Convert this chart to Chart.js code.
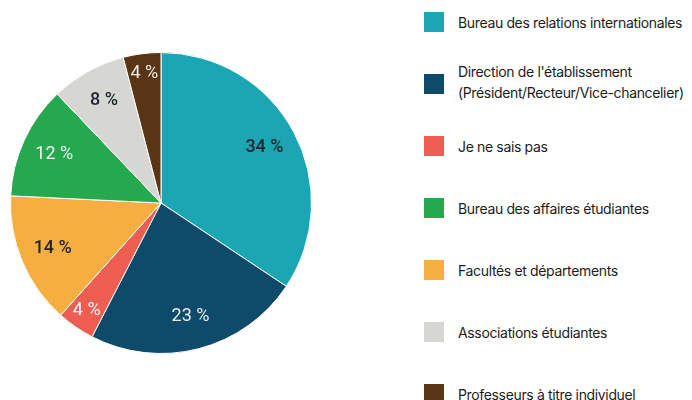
<!DOCTYPE html>
<html>
<head>
<meta charset="utf-8">
<script src="https://cdn.jsdelivr.net/npm/chart.js@4.4.1/dist/chart.umd.min.js"></script>
<style>
    body { margin: 0; background: #fff; width: 692px; height: 400px; overflow: hidden; position: relative; }
    #box { position: absolute; left: 0; top: 0; width: 322px; height: 400px; }
    #legend { position: absolute; left: 424px; top: 0; font-family: Inter, sans-serif; font-size: 14px; color: #1c1c1c; letter-spacing: -0.35px; }
    .item { position: absolute; left: 0; white-space: nowrap; }
    .sq { position: absolute; left: 0; width: 20px; height: 20px; }
    .txt { position: absolute; left: 34px; line-height: 21px; }
</style>
</head>
<body>
<div id="box"><canvas id="chart"></canvas></div>
<div id="legend"></div>
<script>
// categories, in legend order
var labels = [
    "Bureau des relations internationales",
    "Direction de l'établissement\n(Président/Recteur/Vice-chancelier)",
    "Je ne sais pas",
    "Bureau des affaires étudiantes",
    "Facultés et départements",
    "Associations étudiantes",
    "Professeurs à titre individuel"
];
// share of answers, in percent
var values = [34, 23, 4, 12, 14, 8, 4];
var colors = ["#1ca5b2", "#0e4a69", "#ee5d52", "#24a94f", "#f6ae40", "#d6d6d3", "#5a3513"];
var labelColors = ["#1e2530", "#e8eef2", "#ffffff", "#eef7f0", "#1e2530", "#1e2530", "#f3ece4"];
// the pie puts facultés before the student office
var pieOrder = [0, 1, 2, 4, 3, 5, 6];

function pick(arr) {
    return pieOrder.map(function(k) { return arr[k]; });
}

// legend on the right, built from the same arrays
var legend = document.getElementById("legend");
for (var i = 0; i < labels.length; i++) {
    var item = document.createElement("div");
    item.className = "item";
    item.style.top = (12 + i * 62) + "px";
    var sq = document.createElement("div");
    sq.className = "sq";
    sq.style.background = colors[i];
    item.appendChild(sq);
    var lines = labels[i].split("\n");
    var txt = document.createElement("div");
    txt.className = "txt";
    txt.style.top = (lines.length > 1 ? -13 : 0) + "px";
    txt.innerHTML = lines.join("<br>");
    item.appendChild(txt);
    legend.appendChild(item);
}

var pieValues = pick(values);
var pieLabelColors = pick(labelColors);

// percent text inside each slice
var sliceLabels = {
    id: "sliceLabels",
    afterDatasetsDraw: function(chart) {
        var ctx = chart.ctx;
        var arcs = chart.getDatasetMeta(0).data;
        ctx.save();
        ctx.textAlign = "center";
        ctx.textBaseline = "middle";
        arcs.forEach(function(arc, i) {
            var p = arc.getProps(["x", "y", "startAngle", "endAngle", "outerRadius"]);
            var mid = (p.startAngle + p.endAngle) / 2;
            var f = pieValues[i] < 5 ? 0.87 : 0.78;
            var r = p.outerRadius * f;
            var dark = pieLabelColors[i] == "#1e2530";
            ctx.font = (dark ? "500 " : "400 ") + "18px Roboto";
            ctx.fillStyle = pieLabelColors[i];
            ctx.fillText(pieValues[i] + " %", p.x + Math.cos(mid) * r, p.y + Math.sin(mid) * r);
        });
        ctx.restore();
    }
};

var chart = new Chart("chart", {
    type: "pie",
    data: {
        labels: pick(labels),
        datasets: [{
            data: pieValues,
            backgroundColor: pick(colors),
            borderColor: "#ffffff",
            borderWidth: 1
        }]
    },
    options: {
        responsive: true,
        maintainAspectRatio: false,
        animation: false,
        layout: { padding: { left: 10, right: 10, top: 52, bottom: 46 } },
        plugins: {
            legend: { display: false },
            tooltip: { enabled: false }
        }
    },
    plugins: [sliceLabels]
});
</script>
</body>
</html>
